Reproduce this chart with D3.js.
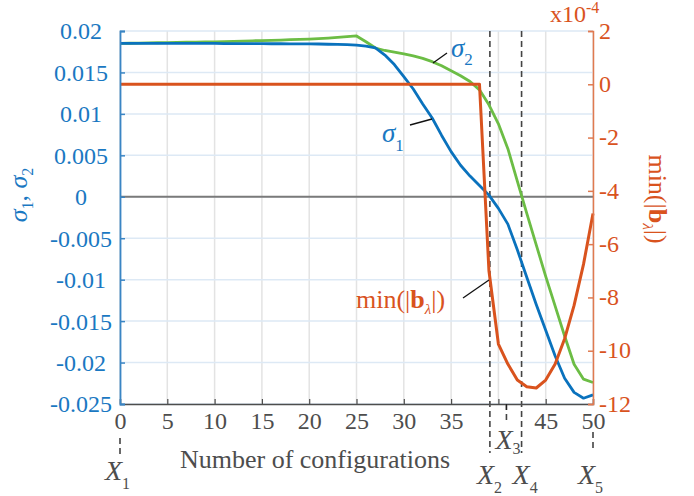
<!DOCTYPE html>
<html><head><meta charset="utf-8">
<script src="https://cdn.jsdelivr.net/npm/d3@7"></script>
<style>
body{margin:0;background:#fff}
svg text{font-family:"Liberation Serif","Tinos","DejaVu Serif",serif !important}
</style>
</head><body>
<svg id="c" width="694" height="496"></svg>
<script>
// ---------- data ----------
const configs = [0,1,2,3,4,5,6,7,8,9,10,11,12,13,14,15,16,17,18,19,20,21,22,23,24,25,26,27,28,29,30,31,32,33,34,35,36,37,38,39,40,41,42,43,44,45,46,47,48,49,50];
const sigma1 = [0.01850,0.01850,0.01850,0.01850,0.01850,0.01850,0.01850,0.01850,0.01850,0.01850,0.01850,
  0.01848,0.01848,0.01848,0.01848,0.01848,0.01846,0.01846,0.01845,0.01845,0.01845,
  0.01843,0.01840,0.01838,0.01835,0.01830,0.01818,0.01795,0.01710,0.01595,0.01450,
  0.01300,0.01120,0.00950,0.00740,0.00545,0.00380,0.00250,0.00135,0.00020,-0.00140,
  -0.00330,-0.00640,-0.00970,-0.01300,-0.01610,-0.01920,-0.02190,-0.02360,-0.02430,-0.02390];
const sigma2 = [0.01850,0.01852,0.01854,0.01856,0.01858,0.01860,0.01862,0.01864,0.01866,0.01868,0.01870,
  0.01873,0.01876,0.01879,0.01882,0.01885,0.01888,0.01891,0.01895,0.01899,0.01903,
  0.01908,0.01914,0.01922,0.01932,0.01940,0.01870,0.01795,0.01765,0.01745,0.01725,
  0.01700,0.01670,0.01630,0.01580,0.01520,0.01460,0.01390,0.01290,0.01110,0.00880,
  0.00580,0.00190,-0.00200,-0.00580,-0.00960,-0.01320,-0.01680,-0.02020,-0.02200,-0.02240];
// min(|b_lambda|), units of 1e-4
const minB = [0,0,0,0,0,0,0,0,0,0,0,0,0,0,0,0,0,0,0,0,0,0,0,0,0,0,0,0,0,0,0,0,0,0,0,0,0,0,0,
  -7.0,-9.75,-10.5,-11.1,-11.35,-11.4,-11.1,-10.5,-9.55,-8.3,-6.75,-4.85];

const xTicks = [0,5,10,15,20,25,30,35,40,45,50];
const xTickLabels = ["0","5","10","15","20","25","30","35","","45","50"];
const leftTicks = [0.02,0.015,0.01,0.005,0,-0.005,-0.01,-0.015,-0.02,-0.025];
const leftTickLabels = ["0.02","0.015","0.01","0.005","0","-0.005","-0.01","-0.015","-0.02","-0.025"];
const rightTicks = [2,0,-2,-4,-6,-8,-10,-12];
const rightTickLabels = ["2","0","-2","-4","-6","-8","-10","-12"];
const markers = [0,39.1,40.85,42.45,50];
const markerNames = ["1","2","3","4","5"];

// ---------- setup ----------
const W = 694, H = 496;
const m = {l:120, r:101, t:31, b:92};
const FONT = '"Liberation Serif","Tinos","DejaVu Serif",serif';
const svg = d3.select("#c").attr("font-family",FONT);
const x = d3.scaleLinear().domain([0,50]).range([m.l, W-m.r]);
const yL = d3.scaleLinear().domain([-0.025,0.02]).range([H-m.b, m.t]);
const yR = d3.scaleLinear().domain([-12,2]).range([H-m.b, m.t]);

const BLUE="#0a72bd", BLUET="#1a78c2", ORANGE="#d9531e", GREEN="#6cbd45", GRAY="#4d4d4d";

// grid
svg.append("g").selectAll("line").data(xTicks).join("line")
  .attr("x1",d=>x(d)).attr("x2",d=>x(d)).attr("y1",m.t).attr("y2",H-m.b)
  .attr("stroke","#e3e3e3").attr("stroke-width",1.5);
svg.append("g").selectAll("line").data(leftTicks).join("line")
  .attr("x1",m.l).attr("x2",W-m.r).attr("y1",d=>yL(d)).attr("y2",d=>yL(d))
  .attr("stroke","#dde9f5").attr("stroke-width",1.5);

// zero line
svg.append("line").attr("x1",m.l).attr("x2",W-m.r).attr("y1",yL(0)).attr("y2",yL(0))
  .attr("stroke","#7a7a7a").attr("stroke-width",2);

// dashed marker lines
const dash = svg.append("g").attr("stroke","#444").attr("stroke-width",1.6).attr("stroke-dasharray","6,4");
dash.append("line").attr("x1",x(markers[1])).attr("x2",x(markers[1])).attr("y1",m.t).attr("y2",453);
dash.append("line").attr("x1",x(markers[3])).attr("x2",x(markers[3])).attr("y1",m.t).attr("y2",453);
dash.append("line").attr("x1",x(markers[2])).attr("x2",x(markers[2])).attr("y1",H-m.b).attr("y2",422);
dash.append("line").attr("x1",x(markers[0])).attr("x2",x(markers[0])).attr("y1",438).attr("y2",456);
dash.append("line").attr("x1",x(markers[4])).attr("x2",x(markers[4])).attr("y1",432).attr("y2",449);

// series
const lineL = d3.line().x((d,i)=>x(configs[i])).y(d=>yL(d));
const lineR = d3.line().x((d,i)=>x(configs[i])).y(d=>yR(d));
svg.append("path").attr("d",lineL(sigma2)).attr("fill","none").attr("stroke",GREEN).attr("stroke-width",2.8).attr("stroke-linejoin","round");
svg.append("path").attr("d",lineL(sigma1)).attr("fill","none").attr("stroke",BLUE).attr("stroke-width",2.8).attr("stroke-linejoin","round");
svg.append("path").attr("d",lineR(minB)).attr("fill","none").attr("stroke",ORANGE).attr("stroke-width",3).attr("stroke-linejoin","round");

// axes
const fs = 24;
const gB = svg.append("g").attr("transform",`translate(0,${H-m.b})`)
  .call(d3.axisBottom(x).tickValues(xTicks).tickSize(-5).tickFormat((d,i)=>xTickLabels[i]));
gB.attr("font-family",FONT).attr("font-size",fs);
gB.select(".domain").attr("stroke",GRAY).attr("stroke-width",1.5);
gB.selectAll(".tick line").attr("stroke",GRAY).attr("stroke-width",1.2);
gB.selectAll(".tick text").attr("y",25).attr("dy",0).attr("fill",GRAY);
// X3 small tick below axis
svg.append("line").attr("x1",x(markers[2])).attr("x2",x(markers[2])).attr("y1",H-m.b).attr("y2",H-m.b+6)
  .attr("stroke","#222").attr("stroke-width",1.2);

const gL = svg.append("g").attr("transform",`translate(${m.l},0)`)
  .call(d3.axisLeft(yL).tickValues(leftTicks).tickSize(-5).tickFormat((d,i)=>leftTickLabels[i]));
gL.attr("font-family",FONT).attr("font-size",fs);
gL.select(".domain").attr("stroke","#3a85c4").attr("stroke-width",1.8);
gL.selectAll(".tick line").attr("stroke","#3a85c4").attr("stroke-width",1.5);
gL.selectAll(".tick text").attr("x",-39).attr("dy","0.33em").attr("text-anchor","middle").attr("fill",BLUET);

const gR = svg.append("g").attr("transform",`translate(${W-m.r},0)`)
  .call(d3.axisRight(yR).tickValues(rightTicks).tickSize(-5).tickPadding(6).tickFormat((d,i)=>rightTickLabels[i]));
gR.attr("font-family",FONT).attr("font-size",fs);
gR.select(".domain").attr("stroke","#e07a50").attr("stroke-width",1.5);
gR.selectAll(".tick line").attr("stroke","#e07a50").attr("stroke-width",1.5);
gR.selectAll(".tick text").attr("dy","0.3em").attr("fill",ORANGE);

// x10^-4
const ex = svg.append("text").attr("x",550).attr("y",22).attr("fill",ORANGE).attr("font-size",fs);
ex.append("tspan").text("x10");
ex.append("tspan").attr("font-size",16).attr("dy",-9).text("-4");

// axis labels
svg.append("text").attr("x",315).attr("y",468).attr("text-anchor","middle")
  .attr("fill",GRAY).attr("font-size",26).text("Number of configurations");

const lt = svg.append("text").attr("transform","translate(27,195) rotate(-90)").attr("text-anchor","middle")
  .attr("fill",BLUET).attr("font-size",26);
lt.append("tspan").attr("font-style","italic").text("σ");
lt.append("tspan").attr("font-size",16).attr("dy",6).text("1");
lt.append("tspan").attr("dy",-6).text(", ");
lt.append("tspan").attr("font-style","italic").text("σ");
lt.append("tspan").attr("font-size",16).attr("dy",6).text("2");

function minLabel(sel){
  sel.append("tspan").text("min(|");
  sel.append("tspan").attr("font-weight","bold").text("b");
  sel.append("tspan").attr("font-size",15).attr("font-style","italic").attr("dy",6).text("λ");
  sel.append("tspan").attr("dy",-6).text("|)");
}
const rt = svg.append("text").attr("transform","translate(649,199) rotate(90)").attr("text-anchor","middle")
  .attr("fill",ORANGE).attr("font-size",26);
minLabel(rt);

// annotations
const lead = svg.append("g").attr("stroke","#111").attr("stroke-width",1.3);
lead.append("line").attr("x1",433).attr("y1",63).attr("x2",447).attr("y2",53);
lead.append("line").attr("x1",410).attr("y1",125).attr("x2",432).attr("y2",119);
lead.append("line").attr("x1",463).attr("y1",298).attr("x2",489).attr("y2",280);

const s2 = svg.append("text").attr("x",451).attr("y",57).attr("fill",BLUET).attr("font-size",27);
s2.append("tspan").attr("font-style","italic").text("σ");
s2.append("tspan").attr("font-size",17).attr("dy",8).text("2");
const s1 = svg.append("text").attr("x",382).attr("y",142).attr("fill",BLUET).attr("font-size",27);
s1.append("tspan").attr("font-style","italic").text("σ");
s1.append("tspan").attr("font-size",17).attr("dy",9).text("1");
const ml = svg.append("text").attr("x",356).attr("y",308).attr("fill",ORANGE).attr("font-size",26);
minLabel(ml);

// X markers labels
const xOff = [-15,-13,-11,-9,-15];
const xBase = [480,484,449,484,484];
const subDy = [9,9,5,9,9];
markers.forEach((mk,i)=>{
  const t = svg.append("text").attr("x",x(mk)+xOff[i]).attr("y",xBase[i]).attr("fill",GRAY).attr("font-size",28);
  t.append("tspan").attr("font-style","italic").text("X");
  t.append("tspan").attr("font-size",16).attr("dy",subDy[i]).text(markerNames[i]);
});
</script>
</body></html>
